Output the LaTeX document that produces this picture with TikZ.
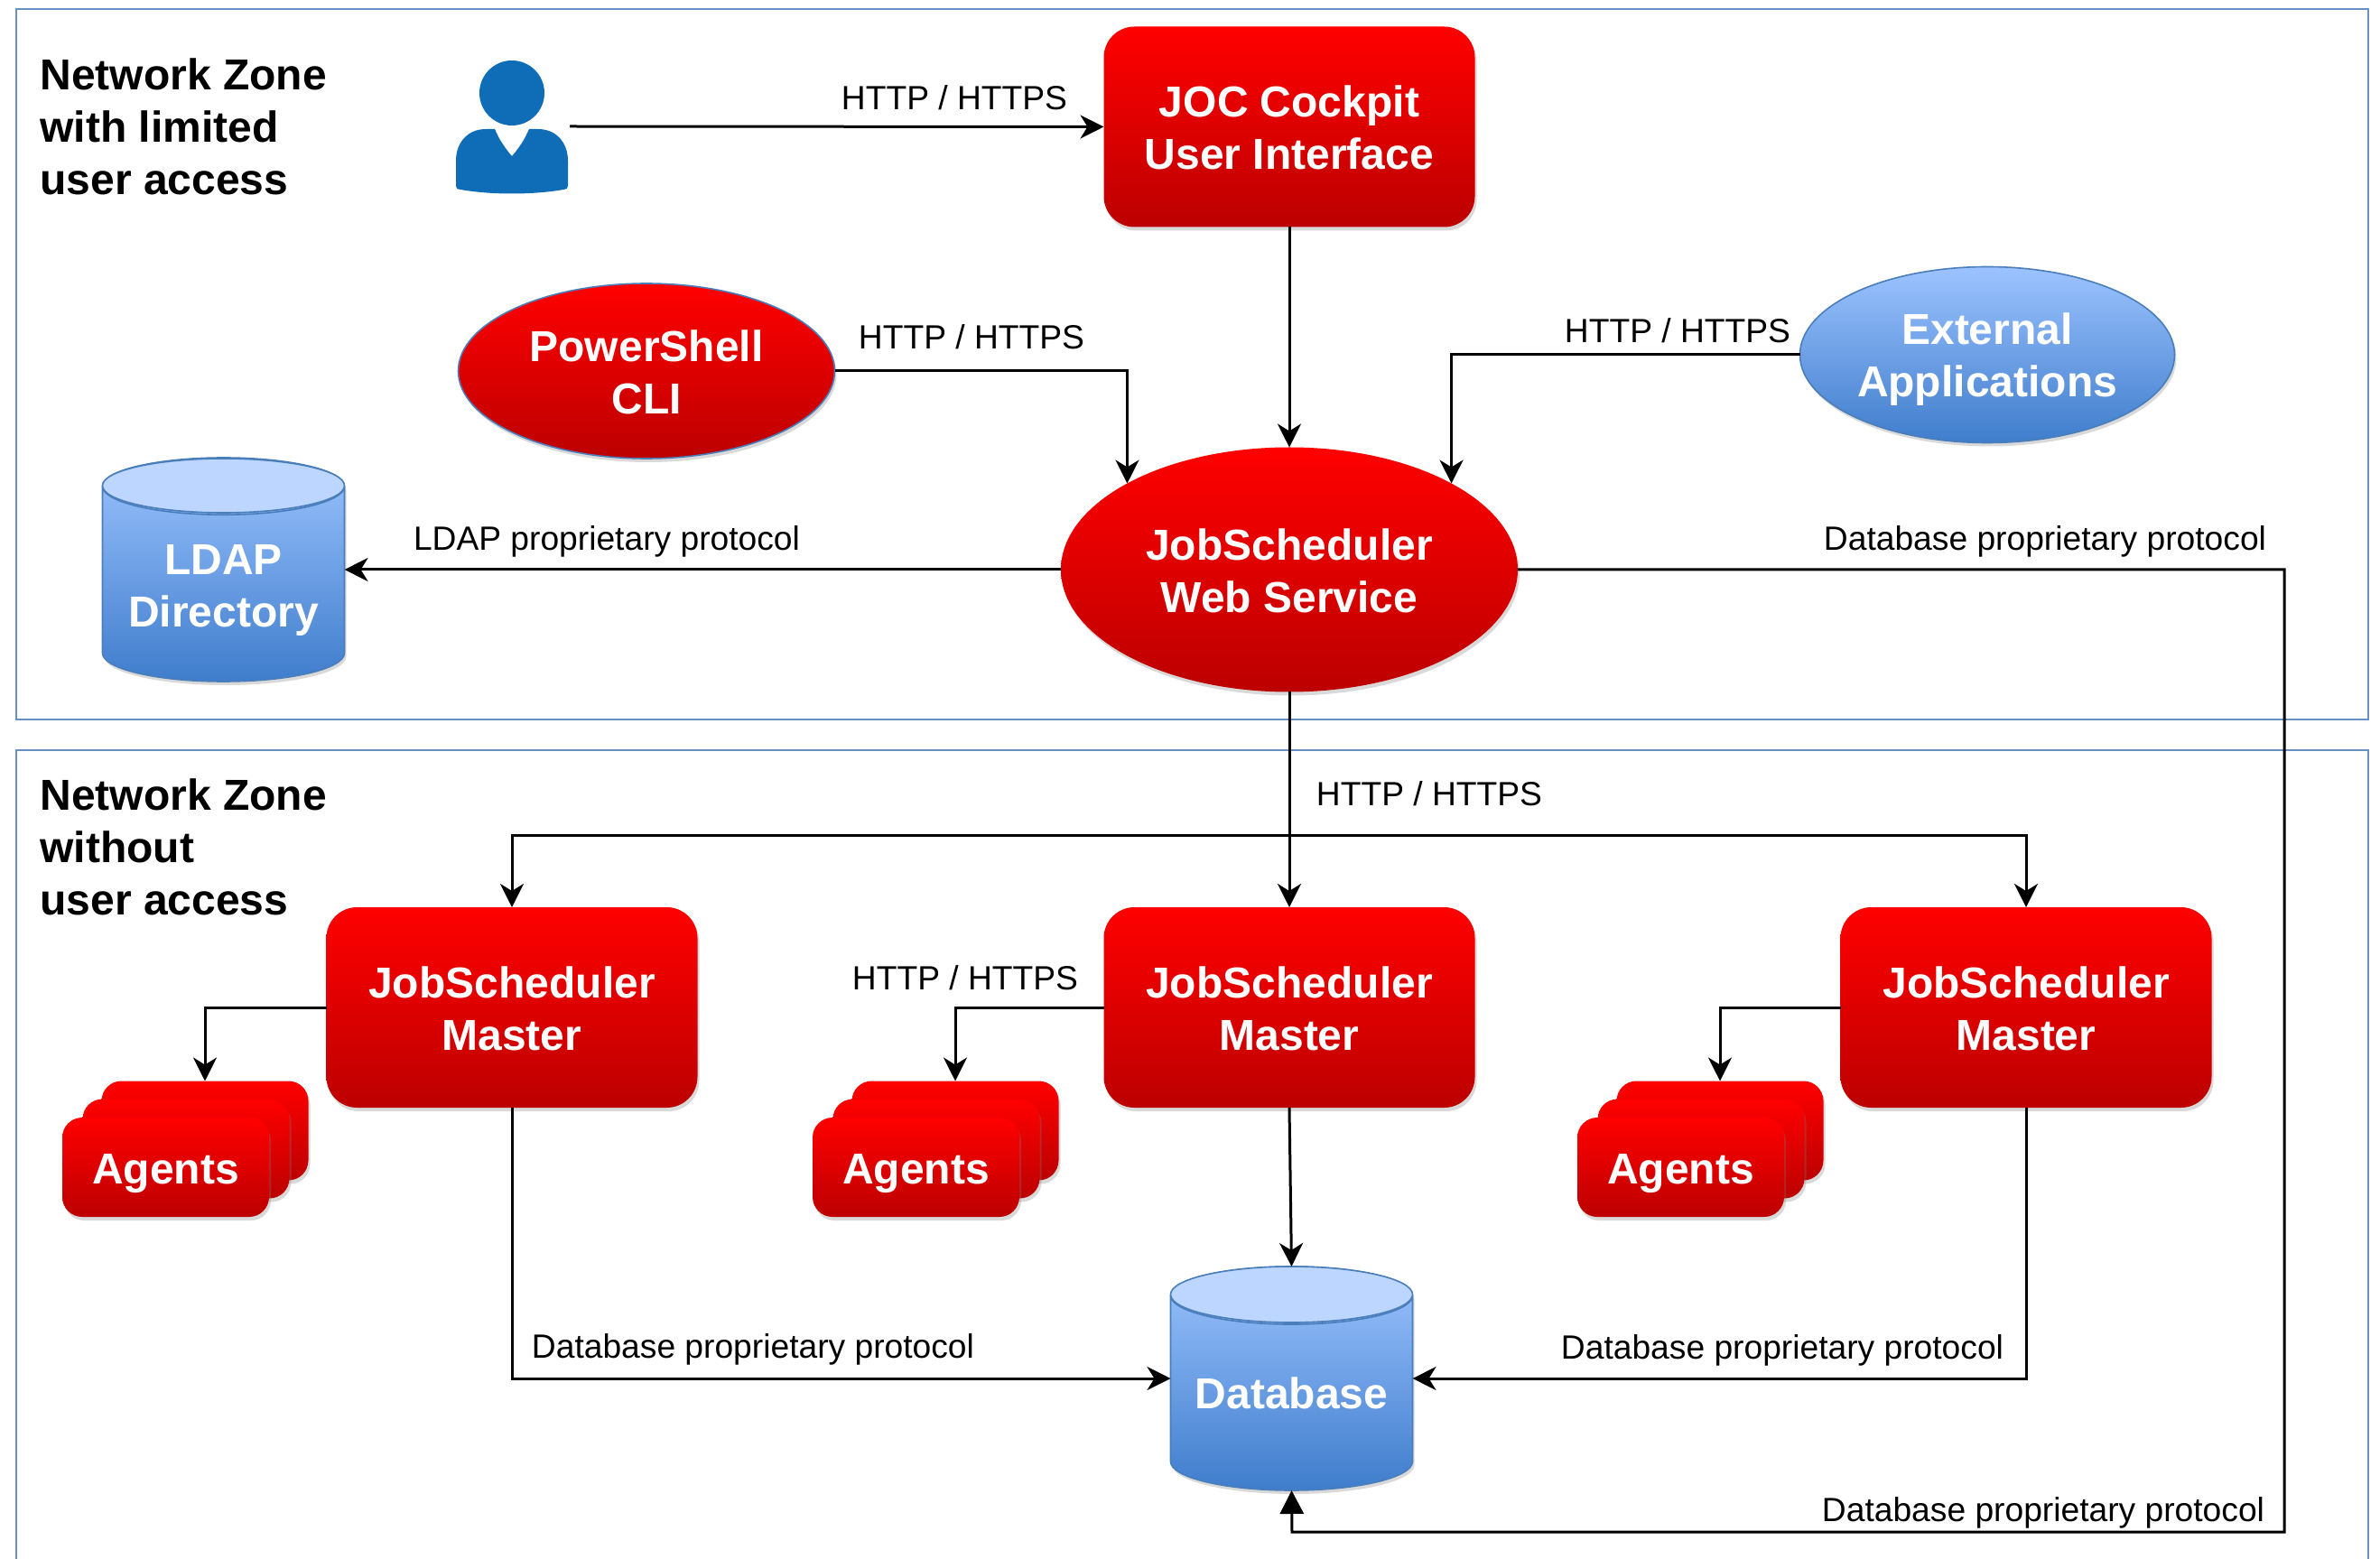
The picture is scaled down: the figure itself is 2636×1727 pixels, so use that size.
\documentclass[tikz,border=0pt]{standalone}
\usepackage{fontspec}
\setmainfont{Liberation Sans}
\usepackage{xcolor}
\usetikzlibrary{arrows.meta,shapes.geometric,shadows}

\definecolor{redtop}{HTML}{FF0000}
\definecolor{redlow}{HTML}{BC0000}
\definecolor{bluetop}{HTML}{9CC3FF}
\definecolor{bluelow}{HTML}{3F7DCC}
\definecolor{bluecap}{HTML}{BCD6FF}
\definecolor{blueline}{HTML}{4A7EBB}
\definecolor{userblue}{HTML}{0F6CB6}

\newcommand{\topgap}[1]{\rule{0pt}{#1}}

\tikzset{
    softshadow/.style={drop shadow={opacity=.3, shadow xshift=1pt, shadow yshift=-2pt}},
    redfill/.style={top color=redtop, bottom color=redlow, text=white, inner sep=0pt, outer sep=0pt,
        align=center, font=\fontsize{24}{29}\bfseries\selectfont, softshadow},
    bluefill/.style={top color=bluetop, bottom color=bluelow, text=white, inner sep=0pt, outer sep=0pt,
        align=center, font=\fontsize{24}{29}\bfseries\selectfont},
    masterbox/.style={redfill, rectangle, rounded corners=17pt, minimum width=205.5pt, minimum height=111pt},
    agentcard/.style={redfill, rectangle, rounded corners=11pt, minimum width=114.5pt, minimum height=55pt},
    redoval/.style={redfill, ellipse},
    blueoval/.style={bluefill, ellipse, draw=blueline, line width=.8pt, minimum width=207.5pt, minimum height=97.5pt, softshadow},
    store/.style={bluefill, cylinder, anchor=shape center, shape border rotate=90, aspect=.3, draw=blueline, line width=.8pt,
        minimum width=134pt, minimum height=124pt, softshadow},
    storecap/.style={fill=bluecap, draw=blueline, line width=.8pt},
    zone/.style={draw=blueline!85!white, line width=1.2pt},
    zonetitle/.style={anchor=west, align=left, inner sep=0pt, font=\fontsize{24}{29}\bfseries\selectfont},
    proto/.style={font=\fontsize{18.6}{22}\selectfont},
    link/.style={line width=1.5pt, -{Stealth[length=13pt,width=13pt,inset=4pt]}},
}

\begin{document}
\begin{tikzpicture}[x=.5pt, y=-.5pt]

    \useasboundingbox (0,0) rectangle (2636,1727);

    % zones
    \draw[zone] (18,10) rectangle (2623,797);
    \draw[zone] (18,1727) -- (18,831) -- (2623,831) -- (2623,1727);
    \node[zonetitle] (zone1) at (44,140.5) {Network Zone\\with limited\\user access};
    \node[zonetitle] (zone2) at (44,938) {Network Zone\\without\\user access};

    % user
    \fill[userblue] (567,103) ellipse (36 and 36);
    \fill[userblue] (548,143) .. controls (553,155) and (560,165) .. (567,173)
        .. controls (574,165) and (581,155) .. (586,143) -- (596,143)
        .. controls (616,143) and (629,158) .. (629,178) -- (629,206)
        .. controls (629,209) and (627,210) .. (624,210)
        .. controls (590,216) and (544,216) .. (510,210)
        .. controls (507,210) and (505,209) .. (505,206) -- (505,178)
        .. controls (505,158) and (518,143) .. (538,143) -- cycle;
    \coordinate (user) at (631,140);

    % upper zone
    \node[masterbox] (joc) at (1428,140.5) {\topgap{18.6pt}JOC Cockpit\\User Interface};
    \node[redoval, draw=blueline, line width=.8pt, minimum width=208.5pt, minimum height=97pt] (ps) at (716,411) {\topgap{19pt}PowerShell\\CLI};
    \node[blueoval] (ext) at (2201,393) {\topgap{22.4pt}External\\Applications};
    \node[redoval, minimum width=253pt, minimum height=135.5pt] (ws) at (1428,631) {\topgap{19pt}JobScheduler\\Web Service};
    \node[store] (ldap) at (247.5,631) {\topgap{23pt}LDAP\\Directory};
    \draw[storecap] (247.5,538) ellipse (134 and 30);

    % lower zone
    \node[masterbox] (m1) at (567,1116) {\topgap{19pt}JobScheduler\\Master};
    \node[masterbox] (m2) at (1428,1116) {\topgap{19pt}JobScheduler\\Master};
    \node[masterbox] (m3) at (2244,1116) {\topgap{19pt}JobScheduler\\Master};
    \node[store] (db) at (1430.5,1527) {Database};
    \draw[storecap] (1430.5,1434) ellipse (134 and 31);

    \foreach \n/\dx in {a/0, b/831, c/1678} {
        \node[agentcard] (agent\n3) at (227+\dx,1252.5) {};
        \node[agentcard] (agent\n2) at (206+\dx,1272.5) {};
        \node[agentcard] (agent\n1) at (183.5+\dx,1293) {\topgap{24pt}Agents};
    }

    \coordinate (fork) at (1428,925);
    \coordinate (wsin1) at (ws.152);
    \coordinate (wsin2) at (ws.28);

    \path[link]
        (user) edge (joc.west)
        (joc.south) edge (ws.north)
        (ws.west) edge (ws.west -| ldap.east)
        (ws.south) edge (m2.north)
        (m2.south) edge (db.top);

    \draw[link] (ps.east) -| (wsin1);
    \draw[link] (ext.west) -| (wsin2);
    \draw[link] (fork) -| (m1.north);
    \draw[link] (fork) -| (m3.north);
    \draw[link] (m1.west) -| (agenta3.north);
    \draw[link] (m2.west) -| (agentb3.north);
    \draw[link] (m3.west) -| (agentc3.north);
    \draw[link] (m1.south) |- (db.shape center -| db.west);
    \draw[link] (m3.south) |- (db.shape center -| db.east);
    \draw[line width=1.5pt, -{Triangle[length=13pt,width=13pt]}]
        (ws.east) -- (2530,631) -- (2530,1697) -- (1431,1697) -- (db.bottom);

    % protocol labels
    \node[proto] (l1) at (1057,108) {HTTP / HTTPS};
    \node[proto] (l2) at (1076,373) {HTTP / HTTPS};
    \node[proto] (l3) at (1858,366) {HTTP / HTTPS};
    \node[proto] (l4) at (672,600) {LDAP proprietary protocol};
    \node[proto] (l5) at (2265,600) {Database proprietary protocol};
    \node[proto] (l6) at (1583,879) {HTTP / HTTPS};
    \node[proto] (l7) at (1069,1083) {HTTP / HTTPS};
    \node[proto] (l8) at (834,1495) {Database proprietary protocol};
    \node[proto] (l9) at (1974,1496) {Database proprietary protocol};
    \node[proto] (l10) at (2263,1676) {Database proprietary protocol};

\end{tikzpicture}
\end{document}
